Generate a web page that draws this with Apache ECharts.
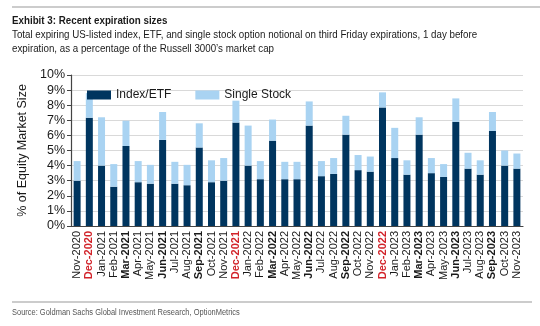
<!DOCTYPE html>
<html><head><meta charset="utf-8">
<script src="https://cdn.jsdelivr.net/npm/echarts@6/dist/echarts.min.js"></script>
<style>html,body{margin:0;padding:0;background:#fff}#c{width:540px;height:326px}</style>
</head><body><div id="c"></div>
<script>
const months = ["Nov-2020","Dec-2020","Jan-2021","Feb-2021","Mar-2021","Apr-2021","May-2021","Jun-2021","Jul-2021","Aug-2021","Sep-2021","Oct-2021","Nov-2021","Dec-2021","Jan-2022","Feb-2022","Mar-2022","Apr-2022","May-2022","Jun-2022","Jul-2022","Aug-2022","Sep-2022","Oct-2022","Nov-2022","Dec-2022","Jan-2023","Feb-2023","Mar-2023","Apr-2023","May-2023","Jun-2023","Jul-2023","Aug-2023","Sep-2023","Oct-2023","Nov-2023"];
const indexEtf = [3.0,7.17,4.0,2.6,5.3,2.9,2.8,5.7,2.8,2.7,5.2,2.9,3.0,6.85,4.0,3.1,5.65,3.1,3.1,6.65,3.3,3.45,6.05,3.7,3.6,7.85,4.5,3.4,6.05,3.5,3.25,6.9,3.8,3.4,6.3,4.0,3.8];
const singleStock = [1.3,1.63,3.2,1.5,1.67,1.4,1.25,1.85,1.45,1.35,1.6,1.45,1.5,1.45,2.65,1.2,1.4,1.15,1.15,1.6,1.0,1.05,1.25,1.0,1.0,1.0,2.0,0.95,1.15,1.0,0.85,1.55,1.05,0.95,1.25,1.0,1.0];
const yTicks = [0,1,2,3,4,5,6,7,8,9,10];

const sans = "'Liberation Sans', Arial, sans-serif";
const chart = echarts.init(document.getElementById('c'), null, {renderer:'canvas'});
chart.setOption({
  animation:false,
  backgroundColor:'#fff',
  graphic:[
    {type:'line',shape:{x1:12,y1:7,x2:540,y2:7},style:{stroke:'#999',lineWidth:1}},
    {type:'line',shape:{x1:12,y1:302,x2:532,y2:302},style:{stroke:'#999',lineWidth:1}},
    {type:'text',x:12,y:15,scaleX:0.85,style:{text:'Exhibit 3: Recent expiration sizes',font:'bold 11.5px '+sans,fill:'#1a1a1a'}},
    {type:'text',x:12,y:30,scaleX:0.93,style:{text:'Total expiring US-listed index, ETF, and single stock option notional on third Friday expirations, 1 day before',font:'10.5px '+sans,fill:'#1a1a1a'}},
    {type:'text',x:12,y:43.5,scaleX:0.93,style:{text:'expiration, as a percentage of the Russell 3000\u2019s market cap',font:'10.5px '+sans,fill:'#1a1a1a'}},
    {type:'text',x:12,y:308,scaleX:0.88,style:{text:'Source: Goldman Sachs Global Investment Research, OptionMetrics',font:'8.5px '+sans,fill:'#555'}}
  ],
  legend:{
    data:['Index/ETF','Single Stock'], left:82, top:84, itemWidth:24, itemHeight:9, itemGap:24,
    textStyle:{fontFamily:sans,fontSize:12,color:'#1a1a1a'},
    icon:'rect'
  },
  grid:{left:71, right:17, top:75, bottom:100, containLabel:false},
  xAxis:{
    type:'category', data:months,
    axisLine:{lineStyle:{color:'#444',width:1.2}},
    axisTick:{alignWithLabel:true,length:4,lineStyle:{color:'#444'}},
    axisLabel:{rotate:90, interval:0, margin:5, fontFamily:sans, fontSize:11, color:'#1a1a1a',
      formatter:function(v){
        const m=v.slice(0,3);
        if(m==='Dec') return '{r|'+v+'}';
        if(m==='Mar'||m==='Jun'||m==='Sep') return '{b|'+v+'}';
        return '{n|'+v+'}';
      },
      rich:{
        n:{fontFamily:sans,fontSize:11,color:'#1a1a1a'},
        b:{fontFamily:sans,fontSize:11,color:'#1a1a1a',fontWeight:'bold'},
        r:{fontFamily:sans,fontSize:11,color:'#d2232a',fontWeight:'bold'}
      }
    }
  },
  yAxis:{
    type:'value', min:yTicks[0], max:yTicks[yTicks.length-1], interval:1,
    name:'% of Equity Market Size', nameLocation:'middle', nameGap:31, nameRotate:90,
    nameTextStyle:{fontFamily:sans,fontSize:12.5,color:'#1a1a1a'},
    axisLine:{show:true,lineStyle:{color:'#444',width:1.2}},
    axisTick:{show:true,length:4,lineStyle:{color:'#444'}},
    axisLabel:{formatter:'{value}%',margin:6,fontFamily:sans,fontSize:12.5,color:'#1a1a1a'},
    splitLine:{lineStyle:{color:'#d9d9d9',width:1.2}}
  },
  series:[
    {name:'Index/ETF',type:'bar',stack:'t',data:indexEtf,barWidth:7,itemStyle:{color:'#00355f'}},
    {name:'Single Stock',type:'bar',stack:'t',data:singleStock,barWidth:7,itemStyle:{color:'#a9d3f2'}}
  ]
});
</script></body></html>
